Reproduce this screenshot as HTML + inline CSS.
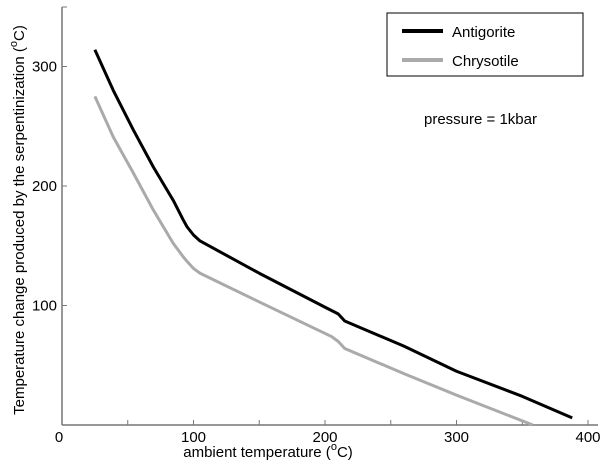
<!DOCTYPE html>
<html><head><meta charset="utf-8"><style>
body{margin:0;background:#fff}
svg{display:block;font-family:"Liberation Sans",Arial,sans-serif}
</style></head><body>
<svg width="600" height="463" id="c">
<g id="axes"></g><g id="lines"></g>
<g>
<rect x="387" y="13" width="196" height="63" fill="#fff" stroke="#000" stroke-width="1"/>
<line x1="402" y1="31" x2="443" y2="31" stroke="#000" stroke-width="4"/>
<text x="452" y="37" font-size="15">Antigorite</text>
<line x1="402" y1="60" x2="443" y2="60" stroke="#aaa" stroke-width="4"/>
<text x="452" y="66" font-size="15">Chrysotile</text>
</g>
<text x="424" y="124" font-size="15">pressure = 1kbar</text>
<text x="268" y="457" font-size="15" text-anchor="middle">ambient temperature (<tspan font-size="11" dy="-7">o</tspan><tspan dy="7">C)</tspan></text>
<text transform="translate(24,220) rotate(-90)" font-size="15" text-anchor="middle">Temperature change produced by the serpentinization (<tspan font-size="11" dy="-7">o</tspan><tspan dy="7">C)</tspan></text>
</svg>
<script>
const xTicks=[0,100,200,300,400];
const xMinor=[50,150,250,350];
const yTicks=[0,100,200,300];
const antX=[25,39,54.2,69.4,84.6,92,95,100,105,150,201,210,215,260,300,350,388];
const antY=[314,280,247,216,188,172,166,159,154,127,98,93,87,66,45,24,6];
const chrX=[25,39,54.2,69.4,84.6,92,95,100,105,150,205,210,215,260,300,358];
const chrY=[275,241,211,180,152,141,137,131,127,103,74,70,64,43,25,0];
const X=v=>62+v*1.315, Y=v=>425-v*1.195;
const NS='http://www.w3.org/2000/svg';
const ax=document.getElementById('axes'), ln=document.getElementById('lines');
function mk(p,t,a){const e=document.createElementNS(NS,t);for(const k in a)e.setAttribute(k,a[k]);p.appendChild(e);return e;}
let e=mk(ax,'line',{x1:62,y1:7,x2:62,y2:425,stroke:'#777','stroke-width':1.5});


e=mk(ax,'line',{x1:62,y1:425,x2:598,y2:425,stroke:'#777','stroke-width':1.5});


mk(ax,'line',{x1:62,y1:7,x2:67,y2:7,stroke:'#777'});
xTicks.forEach(v=>{
 if(v>0){const t=mk(ax,'line',{x1:X(v),y1:425,x2:X(v),y2:420,stroke:'#777'});
 
 }
 const l=mk(ax,'text',{x:X(v)-(v==0?3:0),y:442,'font-size':15,'text-anchor':'middle'});l.textContent=v;
 
 
});
xMinor.forEach(v=>{const t=mk(ax,'line',{x1:X(v),y1:425,x2:X(v),y2:420,stroke:'#777'});
 
 });
yTicks.forEach(v=>{
 if(v>0){const t=mk(ax,'line',{x1:62,y1:Y(v),x2:67,y2:Y(v),stroke:'#777'});
 
 
 const l=mk(ax,'text',{x:57,y:Y(v)+5,'font-size':15,'text-anchor':'end'});l.textContent=v;
 
 }
});
function line(xs,ys,col,name){
 const p=mk(ln,'polyline',{points:xs.map((x,i)=>X(x)+','+Y(ys[i])).join(' '),fill:'none',stroke:col,'stroke-width':3,'stroke-linejoin':'round'});
 
 
}
line(chrX,chrY,'#aaa','chrysotile-line');
line(antX,antY,'#000','antigorite-line');
</script>
</body></html>
